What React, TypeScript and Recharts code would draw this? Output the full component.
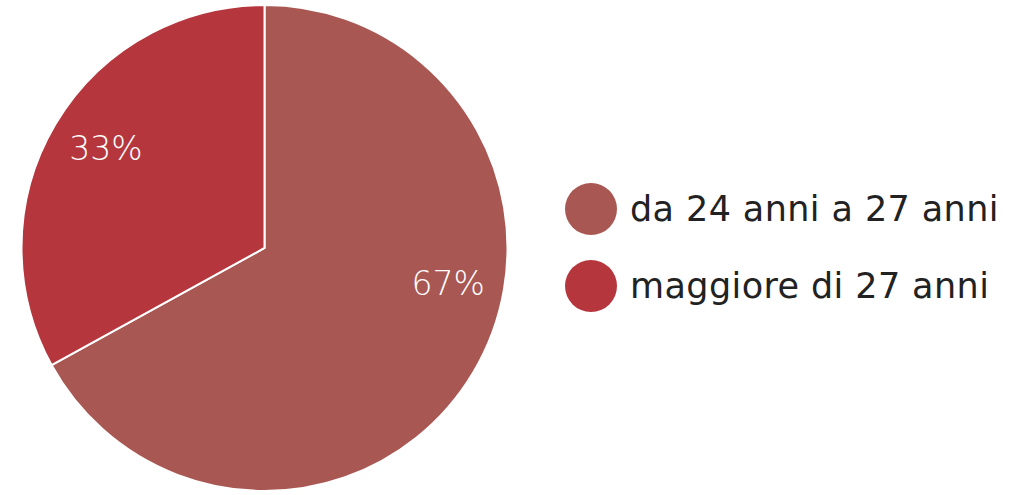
import React from "react";
import { PieChart, Pie, Cell, Legend } from "recharts";

const categories = ["da 24 anni a 27 anni", "maggiore di 27 anni"];
const values = [67, 33];
const colors = ["#A85752", "#B5373D"];
const labelAngles = [-11, 148];

const data = categories.map((name, i) => ({ name, value: values[i] }));

const RAD = Math.PI / 180;

const renderLabel = (props: any) => {
  const { cx, cy, outerRadius, index, value } = props;
  const a = labelAngles[index];
  const r = outerRadius * 0.77;
  const x = cx + r * Math.cos(a * RAD);
  const y = cy - r * Math.sin(a * RAD);
  return (
    <text
      x={x}
      y={y}
      fill="#ffffff"
      textAnchor="middle"
      dominantBaseline="central"
      fontFamily="'DejaVu Sans', sans-serif"
      fontSize={33}
      fontWeight={300}
    >
      {`${value}%`}
    </text>
  );
};

const renderLegend = () => (
  <div style={{ fontFamily: "'DejaVu Sans', sans-serif" }}>
    {categories.map((c, i) => (
      <div key={c} style={{ display: "flex", alignItems: "center", height: 77 }}>
        <div
          style={{
            width: 52,
            height: 52,
            borderRadius: 26,
            background: colors[i],
            marginRight: 13,
            flexShrink: 0,
          }}
        />
        <span style={{ fontSize: 35, letterSpacing: 0.4, color: "#222222", whiteSpace: "nowrap" }}>{c}</span>
      </div>
    ))}
  </div>
);

export default function App() {
  return (
    <div style={{ position: "absolute", left: 0, top: 0, background: "#fff" }}>
      <PieChart width={1033} height={495} margin={{ top: 0, right: 0, bottom: 0, left: 0 }}>
        <Pie
          data={data}
          dataKey="value"
          nameKey="name"
          cx={264.5}
          cy={248}
          outerRadius={243}
          startAngle={90}
          endAngle={-270}
          stroke="#ffffff"
          strokeWidth={2}
          label={renderLabel}
          labelLine={false}
          isAnimationActive={false}
        >
          {data.map((d, i) => (
            <Cell key={d.name} fill={colors[i]} />
          ))}
        </Pie>
        <Legend
          content={renderLegend}
          layout="vertical"
          wrapperStyle={{ position: "absolute", left: 565, top: 170, width: 468 }}
        />
      </PieChart>
    </div>
  );
}
